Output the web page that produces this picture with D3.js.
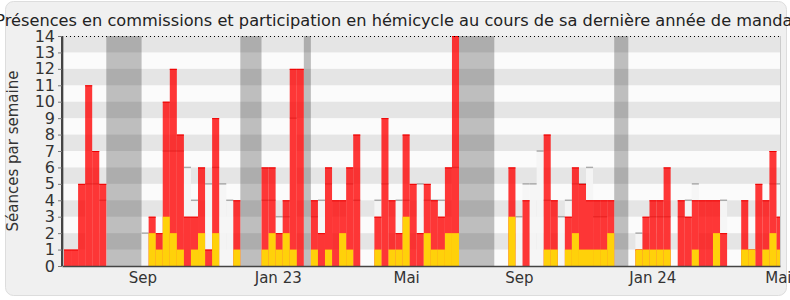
<!DOCTYPE html>
<html>
<head>
<meta charset="utf-8">
<script src="https://cdn.jsdelivr.net/npm/d3@7"></script>
<style>
  body { margin: 0; background: #ffffff; }
  text { font-family: "DejaVu Sans", sans-serif; }
</style>
</head>
<body>
<script>
// weekly values, week 0 = first week shown
const hemicycle = [
  1, 1, 5, 11, 7, 5, 0, 0, 0, 0,
  0, 0, 3, 2, 10, 12, 8, 3, 3, 6,
  1, 9, 0, 0, 4, 0, 0, 0, 6, 6,
  2, 4, 12, 12, 0, 4, 2, 6, 4, 4,
  6, 8, 0, 0, 3, 9, 4, 2, 8, 5,
  2, 5, 4, 3, 6, 14, 0, 0, 0, 0,
  0, 0, 0, 6, 0, 4, 0, 0, 8, 4,
  0, 3, 6, 5, 4, 4, 4, 4, 0, 0,
  0, 1, 3, 4, 4, 6, 0, 4, 3, 4,
  4, 4, 4, 2, 0, 0, 4, 1, 5, 4,
  7, 3
]
const commission = [
  0, 0, 0, 0, 0, 0, 0, 0, 0, 0,
  0, 0, 2, 1, 3, 2, 1, 0, 1, 2,
  0, 2, 0, 0, 1, 0, 0, 0, 1, 2,
  1, 2, 1, 0, 0, 1, 0, 1, 0, 2,
  1, 0, 0, 0, 1, 0, 1, 1, 3, 0,
  0, 2, 1, 1, 2, 2, 0, 0, 0, 0,
  0, 0, 0, 3, 0, 0, 0, 0, 1, 1,
  0, 1, 2, 1, 1, 1, 1, 2, 0, 0,
  0, 1, 1, 1, 1, 1, 0, 0, 0, 1,
  0, 0, 2, 0, 0, 0, 1, 1, 0, 1,
  2, 1
]
// median of all deputies (null where it can't be seen)
const mediane = [
  null, null, null, 5, 5, 4, null, null, null, null,
  null, 2, null, null, 7, 7, 7, 6, 4, null,
  5, 6, 5, 4, null, null, null, null, 4, 4,
  3, 3, 9, null, null, 3, 4, 5, null, null,
  5, 4, null, null, 4, 5, null, 4, 4, null,
  5, 4, 4, 4, null, 6, null, null, null, null,
  null, null, null, null, 3, 5, 5, 7, 4, null,
  3, 4, 5, 5, 6, 3, 3, null, null, null,
  null, 2, null, 3, 3, 3, null, 3, 4, 5,
  null, null, null, 4, null, null, null, null, null, null,
  5, 5
]
// vacances parlementaires [first week, week after last]
const vacances = [[-1, 0], [6, 11], [25, 28], [34, 35], [56, 61], [78, 80]]
const tickWeeks = [11.1, 30.3, 48.5, 64.5, 83.4, 101.2]
const tickLabels = ['Sep', 'Jan 23', 'Mai', 'Sep', 'Jan 24', 'Mai']
const yTicks = d3.range(0, 15)

const W = 790, H = 300
const margin = {top: 36, right: 10, bottom: 34, left: 62}
const plotRight = W - margin.right, plotBottom = H - margin.bottom

const svg = d3.select('body').append('svg')
    .attr('width', W)
    .attr('height', H)

// frame
svg.append('rect')
    .attr('x', 5.5).attr('y', 1.5)
    .attr('width', 781).attr('height', 294)
    .attr('rx', 8)
    .attr('fill', '#f0f0f0')
    .attr('stroke', '#dddddd')

const x = d3.scaleLinear()
    .domain([-0.28, 101.5])
    .range([margin.left, plotRight])

const y = d3.scaleLinear()
    .domain([0, 14])
    .range([plotBottom, margin.top])

const plot = svg.append('g')

const clip = svg.append('clipPath').attr('id', 'clip')
clip.append('rect')
    .attr('x', margin.left).attr('y', margin.top)
    .attr('width', plotRight - margin.left).attr('height', plotBottom - margin.top)

const inner = plot.append('g').attr('clip-path', 'url(#clip)')

// background
inner.append('rect')
    .attr('x', margin.left).attr('y', margin.top)
    .attr('width', plotRight - margin.left).attr('height', plotBottom - margin.top)
    .attr('fill', '#fbfbfb')

// holidays
inner.selectAll('rect.vac')
    .data(vacances)
    .enter()
    .append('rect')
    .attr('class', 'vac')
    .attr('x', d => x(d[0]))
    .attr('width', d => x(d[1]) - x(d[0]))
    .attr('y', y(14))
    .attr('height', y(0) - y(14))
    .attr('fill', '#bebebe')

// grey bands on odd rows
inner.selectAll('rect.band')
    .data(yTicks.filter(v => v % 2 === 1))
    .enter()
    .append('rect')
    .attr('class', 'band')
    .attr('x', margin.left)
    .attr('width', plotRight - margin.left)
    .attr('y', d => y(d + 1))
    .attr('height', d => y(d) - y(d + 1))
    .attr('fill', '#000')
    .attr('fill-opacity', 0.085)

const weeks = d3.range(hemicycle.length)
const med = weeks.filter(i => mediane[i] !== null)

// median bars
inner.selectAll('rect.med')
    .data(med)
    .enter()
    .append('rect')
    .attr('class', 'med')
    .attr('x', i => x(i))
    .attr('width', i => x(i + 1) - x(i))
    .attr('y', i => y(mediane[i]))
    .attr('height', i => y(0) - y(mediane[i]))
    .attr('fill', '#f5f5f5')
    .attr('fill-opacity', 0.9)

inner.selectAll('line.med')
    .data(med)
    .enter()
    .append('line')
    .attr('class', 'med')
    .attr('x1', i => x(i))
    .attr('x2', i => x(i + 1))
    .attr('y1', i => y(mediane[i]))
    .attr('y2', i => y(mediane[i]))
    .attr('stroke', '#aaaaaa')
    .attr('stroke-width', 1.5)

// hemicycle bars
const hem = weeks.filter(i => hemicycle[i] > 0)
inner.selectAll('rect.hem')
    .data(hem)
    .enter()
    .append('rect')
    .attr('class', 'hem')
    .attr('x', i => x(i))
    .attr('width', i => x(i + 1) - x(i))
    .attr('y', i => y(hemicycle[i]))
    .attr('height', i => y(0) - y(hemicycle[i]))
    .attr('fill', '#ff0000')
    .attr('fill-opacity', 0.78)

inner.selectAll('line.hem')
    .data(hem)
    .enter()
    .append('line')
    .attr('class', 'hem')
    .attr('x1', i => x(i))
    .attr('x2', i => x(i + 1))
    .attr('y1', i => y(hemicycle[i]) + 0.5)
    .attr('y2', i => y(hemicycle[i]) + 0.5)
    .attr('stroke', '#ee0000')
    .attr('stroke-width', 1)

// commission bars
inner.selectAll('rect.com')
    .data(weeks.filter(i => commission[i] > 0))
    .enter()
    .append('rect')
    .attr('class', 'com')
    .attr('x', i => x(i))
    .attr('width', i => x(i + 1) - x(i))
    .attr('y', i => y(commission[i]))
    .attr('height', i => y(0) - y(commission[i]))
    .attr('fill', '#ffd10a')

// dotted top line
plot.append('line')
    .attr('x1', margin.left).attr('x2', plotRight)
    .attr('y1', y(14) + 0.5).attr('y2', y(14) + 0.5)
    .attr('stroke', '#000')
    .attr('stroke-dasharray', '1,3')

// right border
plot.append('line')
    .attr('x1', plotRight + 0.5).attr('x2', plotRight + 0.5)
    .attr('y1', y(14)).attr('y2', y(0))
    .attr('stroke', '#cccccc')

// y axis
const yAxis = svg.append('g')
    .attr('transform', 'translate(' + margin.left + ',0)')
    .call(d3.axisLeft(y).tickValues(yTicks).tickSize(4).tickPadding(3).tickFormat(d3.format('d')))
yAxis.select('.domain').attr('stroke', '#444').attr('stroke-width', 2).attr('d', 'M0,' + y(14) + 'V' + y(0))
yAxis.selectAll('.tick line').attr('stroke', '#777')
yAxis.selectAll('.tick text')
    .attr('font-family', 'DejaVu Sans')
    .attr('font-size', '16px')
    .attr('fill', '#333')

// x axis
const xAxis = svg.append('g')
    .attr('transform', 'translate(0,' + plotBottom + ')')
    .call(d3.axisBottom(x).tickValues(tickWeeks).tickSize(0).tickPadding(6).tickFormat((d, i) => tickLabels[i]))
xAxis.select('.domain').attr('stroke', '#444').attr('stroke-width', 1.5)
xAxis.selectAll('.tick text')
    .attr('font-family', 'DejaVu Sans Condensed, DejaVu Sans')
    .attr('font-size', '15px')
    .attr('fill', '#333')

// axis title
svg.append('text')
    .attr('transform', 'translate(18,' + ((margin.top + plotBottom) / 2) + ') rotate(-90)')
    .attr('text-anchor', 'middle')
    .attr('font-size', '15px')
    .attr('fill', '#333')
    .text('Séances par semaine')

// title
svg.append('text')
    .attr('x', 397)
    .attr('y', 26)
    .attr('text-anchor', 'middle')
    .attr('font-size', '16.2px')
    .attr('fill', '#222')
    .text('Présences en commissions et participation en hémicycle au cours de sa dernière année de mandat')
</script>
</body>
</html>
